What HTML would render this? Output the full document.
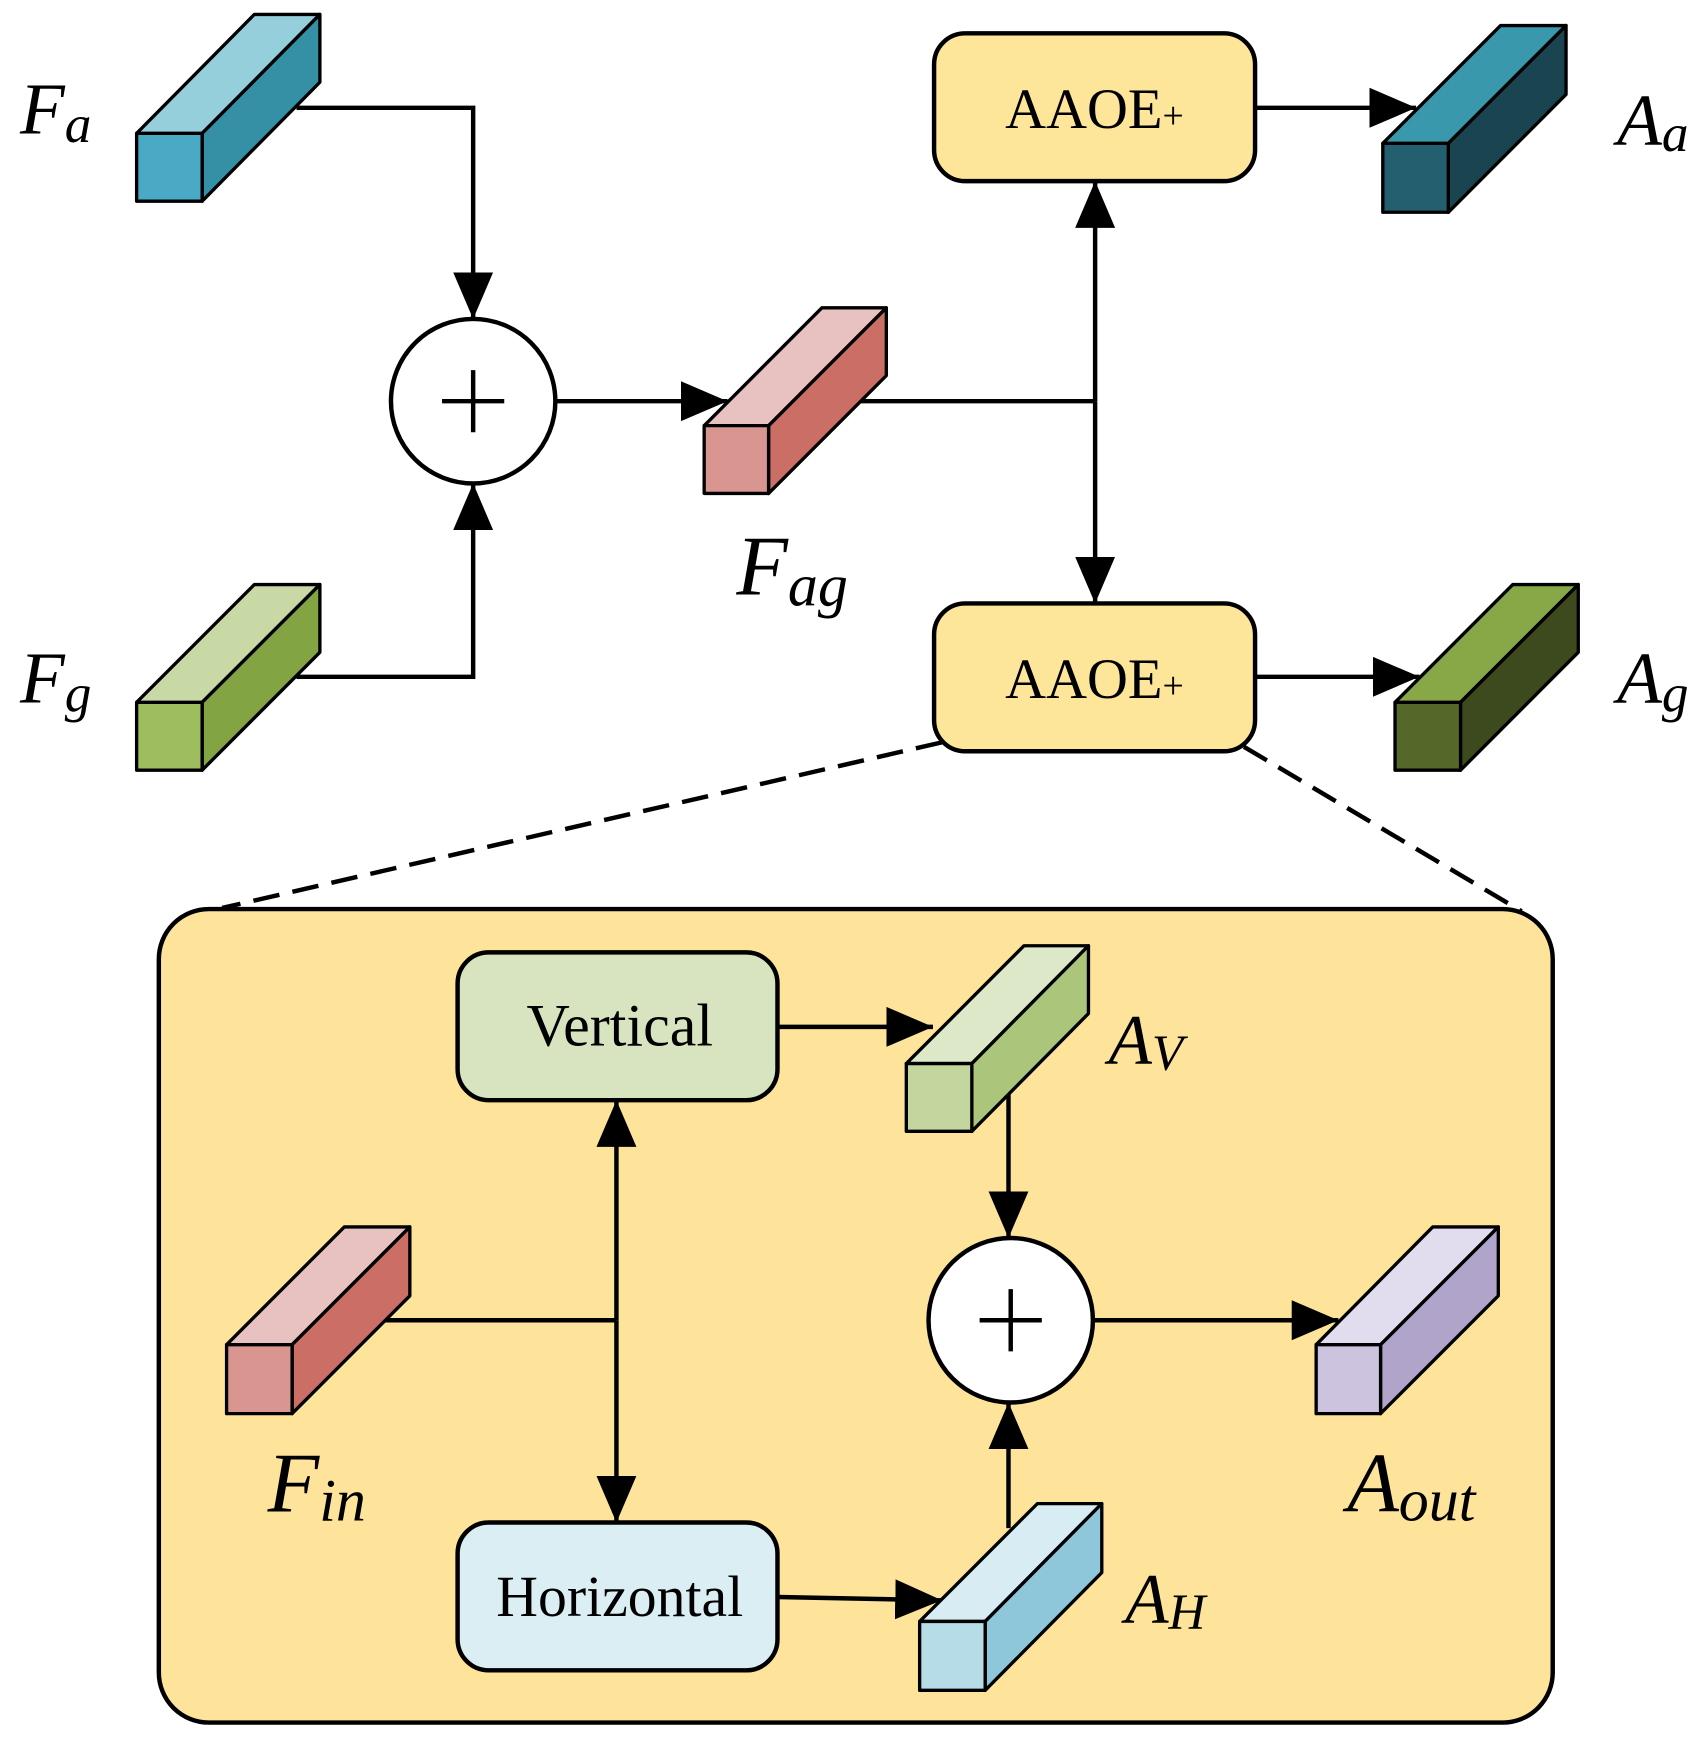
<!DOCTYPE html>
<html><head><meta charset="utf-8"><style>
html,body{margin:0;padding:0;background:#fff;}
svg{display:block;}
text{font-family:"Liberation Serif",serif;fill:#000;}
.it{font-style:italic;}
</style></head><body>
<svg width="1706" height="1737" viewBox="0 0 1536 1563" preserveAspectRatio="none" xmlns="http://www.w3.org/2000/svg">
<defs>
<marker id="ar" markerUnits="userSpaceOnUse" markerWidth="44" markerHeight="40" refX="42" refY="20" orient="auto">
<path d="M0,2 L42,20 L0,38 Z" fill="#000"/>
</marker>
</defs>
<g stroke="#000" stroke-width="4" fill="none">
<rect x="143" y="818" width="1255" height="732" rx="45" fill="#fde49a"/>
<line x1="848" y1="668" x2="200" y2="817" stroke-dasharray="24,12"/>
<line x1="1120" y1="672" x2="1370" y2="820" stroke-dasharray="24,12"/>
<rect x="841" y="30" width="289" height="133" rx="28" fill="#fde59a"/>
<rect x="841" y="543" width="289" height="133" rx="28" fill="#fde59a"/>
<rect x="412" y="857" width="288" height="133" rx="28" fill="#d8e4c0"/>
<rect x="412" y="1370" width="288" height="133" rx="28" fill="#dbeef4"/>
<circle cx="426" cy="361" r="74" fill="#fff"/>
<line x1="398" y1="361" x2="454" y2="361"/><line x1="426" y1="333" x2="426" y2="389"/>
<circle cx="910" cy="1188" r="74" fill="#fff"/>
<line x1="882" y1="1188" x2="938" y2="1188"/><line x1="910" y1="1160" x2="910" y2="1216"/>
<polyline points="267,97 426,97 426,287" marker-end="url(#ar)"/>
<polyline points="267,609 426,609 426,435" marker-end="url(#ar)"/>
<line x1="500" y1="361" x2="655" y2="361" marker-end="url(#ar)"/>
<line x1="775" y1="361" x2="986" y2="361"/>
<line x1="986" y1="361" x2="986" y2="163" marker-end="url(#ar)"/>
<line x1="986" y1="361" x2="986" y2="543" marker-end="url(#ar)"/>
<line x1="1130" y1="97" x2="1275" y2="97" marker-end="url(#ar)"/>
<line x1="1130" y1="609" x2="1278" y2="609" marker-end="url(#ar)"/>
<line x1="345" y1="1188" x2="555" y2="1188"/>
<line x1="555" y1="1188" x2="555" y2="990" marker-end="url(#ar)"/>
<line x1="555" y1="1188" x2="555" y2="1370" marker-end="url(#ar)"/>
<line x1="700" y1="924" x2="840" y2="924" marker-end="url(#ar)"/>
<line x1="908" y1="985" x2="908" y2="1114" marker-end="url(#ar)"/>
<line x1="908" y1="1375" x2="908" y2="1262" marker-end="url(#ar)"/>
<line x1="984" y1="1188" x2="1205" y2="1188" marker-end="url(#ar)"/>
<line x1="700" y1="1437" x2="848" y2="1440" marker-end="url(#ar)"/>
</g>
<g stroke="#000" stroke-width="3" stroke-linejoin="round">
<polygon points="123,120 229,13 288,13 182,120" fill="#96cfdc"/>
<polygon points="182,120 288,13 288,74 182,181" fill="#3590a5"/>
<rect x="123" y="120" width="59" height="61" fill="#4aaac6"/>
<polygon points="123,632 229,526 288,526 182,632" fill="#c8d9a6"/>
<polygon points="182,632 288,526 288,587 182,693" fill="#82a443"/>
<rect x="123" y="632" width="59" height="61" fill="#9dbd5e"/>
<polygon points="634,383 740,277 798,277 692,383" fill="#e8c2c0"/>
<polygon points="692,383 798,277 798,338 692,444" fill="#cb6e66"/>
<rect x="634" y="383" width="58" height="61" fill="#d99590"/>
<polygon points="1245,129 1351,23 1410,23 1304,129" fill="#3a98ad"/>
<polygon points="1304,129 1410,23 1410,85 1304,191" fill="#1a4450"/>
<rect x="1245" y="129" width="59" height="62" fill="#235f6f"/>
<polygon points="1256,632 1362,526 1421,526 1315,632" fill="#88a848"/>
<polygon points="1315,632 1421,526 1421,587 1315,693" fill="#3d4a1e"/>
<rect x="1256" y="632" width="59" height="61" fill="#55682a"/>
<polygon points="204,1210 310,1104 369,1104 263,1210" fill="#e8c2c0"/>
<polygon points="263,1210 369,1104 369,1166 263,1272" fill="#cb6e66"/>
<rect x="204" y="1210" width="59" height="62" fill="#d99590"/>
<polygon points="816,957 922,851 980,851 875,957" fill="#dde8c8"/>
<polygon points="875,957 980,851 980,912 875,1018" fill="#abc57a"/>
<rect x="816" y="957" width="59" height="61" fill="#c3d69e"/>
<polygon points="828,1459 934,1353 992,1353 887,1459" fill="#d8ecf3"/>
<polygon points="887,1459 992,1353 992,1415 887,1521" fill="#8ec7d9"/>
<rect x="828" y="1459" width="59" height="62" fill="#b6dde7"/>
<polygon points="1185,1210 1290,1104 1349,1104 1243,1210" fill="#e1ddef"/>
<polygon points="1243,1210 1349,1104 1349,1166 1243,1272" fill="#b1a4cb"/>
<rect x="1185" y="1210" width="58" height="62" fill="#ccc3de"/>
</g>
<text x="905" y="115" font-size="51">AAOE<tspan font-size="34">+</tspan></text>
<text x="905" y="628" font-size="51">AAOE<tspan font-size="34">+</tspan></text>
<text x="558" y="941" font-size="54" text-anchor="middle">Vertical</text>
<text x="558" y="1454" font-size="52" text-anchor="middle">Horizontal</text>
<text x="18" y="120" font-size="66" class="it">F<tspan font-size="48" dy="8">a</tspan></text>
<text x="18" y="632" font-size="66" class="it">F<tspan font-size="48" dy="8">g</tspan></text>
<text x="663" y="535" font-size="76" class="it">F<tspan font-size="54" dy="10">ag</tspan></text>
<text x="1456" y="130" font-size="66" class="it">A<tspan font-size="48" dy="6">a</tspan></text>
<text x="1456" y="632" font-size="66" class="it">A<tspan font-size="48" dy="8">g</tspan></text>
<text x="241" y="1360" font-size="76" class="it">F<tspan font-size="54" dy="8">in</tspan></text>
<text x="1213" y="1360" font-size="76" class="it">A<tspan font-size="54" dy="8">out</tspan></text>
<text x="998" y="957" font-size="64" class="it">A<tspan font-size="46" dy="6">V</tspan></text>
<text x="1013" y="1460" font-size="64" class="it">A<tspan font-size="46" dy="6">H</tspan></text>
</svg>
</body></html>
